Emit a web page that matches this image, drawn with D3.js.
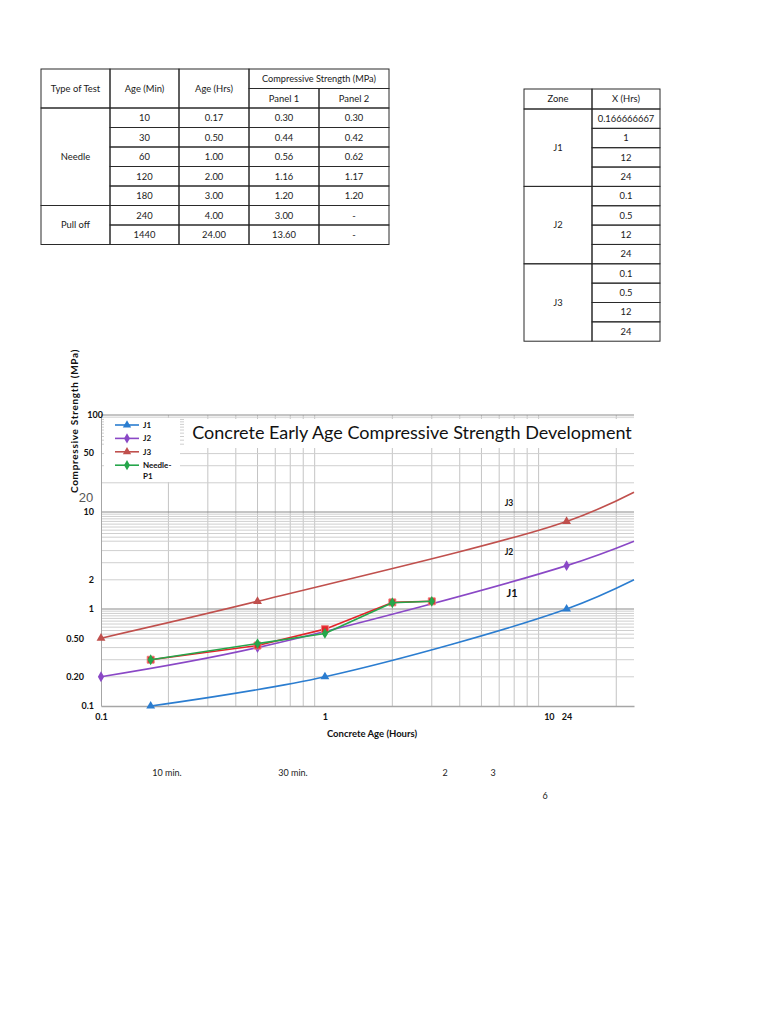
<!DOCTYPE html>
<html>
<head>
<meta charset="utf-8">
<script src="https://cdn.jsdelivr.net/npm/d3@7"></script>
<style>
  body { margin: 0; background: #fff; }
  svg { display: block; font-family: Lato, "Open Sans", sans-serif; }
</style>
</head>
<body>
<svg id="page" width="768" height="1024"></svg>
<script>
// test results table
var testTypes = ["Needle", "Pull off"];
var testCounts = [5, 2];
var ageMin = [10, 30, 60, 120, 180, 240, 1440];
var panel1 = [0.30, 0.44, 0.56, 1.16, 1.20, 3.00, 13.60];
var panel2 = [0.30, 0.42, 0.62, 1.17, 1.20, null, null];

// zone table + strengths
var zones = ["J1", "J2", "J3"];
var zoneHrs = [[0.166666667, 1, 12, 24], [0.1, 0.5, 12, 24], [0.1, 0.5, 12, 24]];
var j1Mpa = [0.1, 0.2, 1, 2];
var j2Mpa = [0.2, 0.4, 2.8, 5];
var j3Mpa = [0.5, 1.2, 8, 16];

// axes
var xTickVals = [0.1, 1, 10, 12];
var xTickLabels = ["0.1", "1", "10", "24"];
var yTickVals = [100, 50, 10, 2, 1, 0.5, 0.2, 0.1];
var yTickLabels = ["100", "50", "10", "2", "1", "0.50", "0.20", "0.1"];
var decades = [0.1, 1, 10];
var gridMultX = [2, 3, 4, 5, 6, 7, 8, 9];
var gridMultY = [2, 3, 4, 5, 5.5, 6, 6.5, 7, 7.5, 8, 8.5, 9, 9.5];
var majorY = [1, 10, 100];

var svg = d3.select("#page");
svg.append("rect").attr("width", 768).attr("height", 1024).attr("fill", "#fff");

var f2 = d3.format(".2f");

// ---------- tables ----------
function drawTable(g, colX, rowY, cells) {
  var cell = g.selectAll("g.cell")
              .data(cells)
              .enter()
              .append("g")
              .attr("class", "cell");

  cell.append("rect")
      .attr("x", function(d) { return colX[d.c0]; })
      .attr("y", function(d) { return rowY[d.r0]; })
      .attr("width", function(d) { return colX[d.c1] - colX[d.c0]; })
      .attr("height", function(d) { return rowY[d.r1] - rowY[d.r0]; })
      .attr("fill", "none")
      .attr("stroke", "#2a2a2a")
      .attr("stroke-width", 1);

  cell.append("text")
      .attr("x", function(d) { return (colX[d.c0] + colX[d.c1]) / 2; })
      .attr("y", function(d) { return (rowY[d.r0] + rowY[d.r1]) / 2; })
      .attr("dy", "0.35em")
      .attr("text-anchor", "middle")
      .attr("font-size", function(d) { return d.fs || 9.4; })
      .attr("fill", "#1a1a1a")
      .text(function(d) { return d.text; });
}

var t1Cols = [41, 110, 179, 249, 319, 389];
var t1Rows = d3.range(10).map(function(i) { return 69 + i * 19.5; });
var t1Cells = [
  {text: "Type of Test", c0: 0, c1: 1, r0: 0, r1: 2},
  {text: "Age (Min)", c0: 1, c1: 2, r0: 0, r1: 2},
  {text: "Age (Hrs)", c0: 2, c1: 3, r0: 0, r1: 2},
  {text: "Compressive Strength (MPa)", c0: 3, c1: 5, r0: 0, r1: 1, fs: 9.2},
  {text: "Panel 1", c0: 3, c1: 4, r0: 1, r1: 2},
  {text: "Panel 2", c0: 4, c1: 5, r0: 1, r1: 2}
];
var start = 2;
testTypes.forEach(function(t, i) {
  t1Cells.push({text: t, c0: 0, c1: 1, r0: start, r1: start + testCounts[i]});
  start += testCounts[i];
});
ageMin.forEach(function(m, i) {
  var r = 2 + i;
  t1Cells.push({text: m, c0: 1, c1: 2, r0: r, r1: r + 1});
  t1Cells.push({text: f2(m / 60), c0: 2, c1: 3, r0: r, r1: r + 1});
  t1Cells.push({text: f2(panel1[i]), c0: 3, c1: 4, r0: r, r1: r + 1});
  t1Cells.push({text: panel2[i] == null ? "-" : f2(panel2[i]), c0: 4, c1: 5, r0: r, r1: r + 1});
});
drawTable(svg.append("g"), t1Cols, t1Rows, t1Cells);

var t2Cols = [524, 592, 660];
var t2Rows = d3.range(14).map(function(i) { return i == 0 ? 89 : 109 + (i - 1) * 19.35; });
var t2Cells = [
  {text: "Zone", c0: 0, c1: 1, r0: 0, r1: 1},
  {text: "X (Hrs)", c0: 1, c1: 2, r0: 0, r1: 1}
];
zones.forEach(function(z, i) {
  t2Cells.push({text: z, c0: 0, c1: 1, r0: 1 + i * 4, r1: 5 + i * 4});
  zoneHrs[i].forEach(function(h, j) {
    t2Cells.push({text: String(h), c0: 1, c1: 2, r0: 1 + i * 4 + j, r1: 2 + i * 4 + j});
  });
});
drawTable(svg.append("g"), t2Cols, t2Rows, t2Cells);

// ---------- chart ----------
var x = d3.scaleLog().domain([0.1, 24]).range([101, 634]);
var y = d3.scaleLog().domain([0.1, 100]).range([706, 415]);

var grid = svg.append("g");
var vGrid = [];
decades.forEach(function(d) { gridMultX.forEach(function(m) { vGrid.push(d * m); }); });
vGrid = vGrid.filter(function(v) { return v < x.domain()[1]; });
var hGrid = [];
decades.forEach(function(d) { gridMultY.forEach(function(m) { hGrid.push(d * m); }); });

grid.selectAll("line.vg")
    .data(vGrid)
    .enter()
    .append("line")
    .attr("x1", function(d) { return x(d); })
    .attr("x2", function(d) { return x(d); })
    .attr("y1", y(100))
    .attr("y2", y(0.1))
    .attr("stroke", "#c4c4c4")
    .attr("stroke-width", 1);

grid.selectAll("line.hg")
    .data(hGrid)
    .enter()
    .append("line")
    .attr("x1", x(0.1))
    .attr("x2", x(24))
    .attr("y1", function(d) { return y(d); })
    .attr("y2", function(d) { return y(d); })
    .attr("stroke", "#cfcfcf")
    .attr("stroke-width", 1);

grid.selectAll("line.mg")
    .data(majorY)
    .enter()
    .append("line")
    .attr("x1", x(0.1))
    .attr("x2", x(24))
    .attr("y1", function(d) { return y(d); })
    .attr("y2", function(d) { return y(d); })
    .attr("stroke", "#8a8a8a")
    .attr("stroke-width", 1);

// axes
var xAxis = svg.append("g")
               .attr("transform", "translate(0," + y(0.1) + ")")
               .call(d3.axisBottom(x)
                       .tickValues(xTickVals)
                       .tickFormat(function(d, i) { return xTickLabels[i]; })
                       .tickSize(0)
                       .tickPadding(8));
xAxis.select(".domain").attr("stroke", "#a6a6a6").attr("stroke-width", 1.5);
xAxis.selectAll("text").attr("font-size", 9).attr("font-weight", "bold").attr("fill", "#111")
     .attr("font-family", "Lato, sans-serif");

var yAxis = svg.append("g")
               .attr("transform", "translate(" + x(0.1) + ",0)")
               .call(d3.axisLeft(y)
                       .tickValues(yTickVals)
                       .tickFormat(function(d, i) { return yTickLabels[i]; })
                       .tickSize(0)
                       .tickPadding(7));
yAxis.select(".domain").attr("stroke", "#a6a6a6").attr("stroke-width", 1);
yAxis.selectAll("text").attr("font-size", 9).attr("font-weight", "bold").attr("fill", "#111")
     .attr("font-family", "Lato, sans-serif")
     .attr("dx", function(d) { return d == 100 ? 9 : (d == 0.5 || d == 0.2) ? -10 : 0; })
     .attr("transform", function(d) { return d == 50 ? "translate(0,8)" : null; });

// stray label from the original sheet
svg.append("text").attr("x", 86).attr("y", 497).attr("dy", "0.35em")
   .attr("text-anchor", "middle").attr("font-size", 13).attr("fill", "#555")
   .attr("font-family", "Liberation Sans, sans-serif").text("20");

// series
var series = [
  {name: "J1", xs: zoneHrs[0], ys: j1Mpa, color: "#2b7dd0", sym: d3.symbolTriangle, smooth: true},
  {name: "J2", xs: zoneHrs[1], ys: j2Mpa, color: "#8a48c6", sym: d3.symbolDiamond, smooth: true},
  {name: "J3", xs: zoneHrs[2], ys: j3Mpa, color: "#c0504d", sym: d3.symbolTriangle, smooth: true},
  {name: "Needle-P2", xs: ageMin.slice(0, 5).map(function(m) { return m / 60; }), ys: panel2.slice(0, 5), color: "#e3242b", sym: d3.symbolSquare, smooth: false},
  {name: "Needle-P1", xs: ageMin.slice(0, 5).map(function(m) { return m / 60; }), ys: panel1.slice(0, 5), color: "#25a64b", sym: d3.symbolDiamond, smooth: false}
];

var smoothLine = d3.line()
                   .curve(d3.curveCatmullRom.alpha(0.5))
                   .x(function(d) { return x(d.x); })
                   .y(function(d) { return y(d.y); });
var straightLine = d3.line()
                     .x(function(d) { return x(d.x); })
                     .y(function(d) { return y(d.y); });

series.forEach(function(s) {
  var pts = s.xs.map(function(v, i) { return {x: v, y: s.ys[i]}; });
  var g = svg.append("g");
  g.append("path")
   .datum(pts)
   .attr("fill", "none")
   .attr("stroke", s.color)
   .attr("stroke-width", 1.6)
   .attr("stroke-linejoin", "round")
   .attr("d", s.smooth ? smoothLine : straightLine);

  g.selectAll("path.mk")
   .data(pts.filter(function(d) { return d.x < x.domain()[1]; }))
   .enter()
   .append("path")
   .attr("transform", function(d) { return "translate(" + x(d.x) + "," + y(d.y) + ")"; })
   .attr("d", d3.symbol().type(s.sym).size(s.sym == d3.symbolSquare ? 48 : 34))
   .attr("fill", s.color)
   .attr("stroke", s.sym == d3.symbolSquare ? "#f07a7a" : "none")
   .attr("stroke-width", 1);
});

// legend box
var legend = svg.append("g");
legend.append("rect").attr("x", 104).attr("y", 418).attr("width", 76).attr("height", 64).attr("fill", "#fff");
var legItems = series.filter(function(s) { return s.name != "Needle-P2"; });
var leg = legend.selectAll("g.li")
                .data(legItems)
                .enter()
                .append("g")
                .attr("transform", function(d, i) { return "translate(0," + (425 + i * 13.4) + ")"; });
leg.append("line").attr("x1", 115).attr("x2", 139)
   .attr("stroke", function(d) { return d.color; }).attr("stroke-width", 1.6);
leg.append("path").attr("transform", "translate(127,0)")
   .attr("d", function(d) { return d3.symbol().type(d.sym).size(30)(); })
   .attr("fill", function(d) { return d.color; });
leg.append("text").attr("x", 143).attr("dy", "0.35em")
   .attr("font-size", 8).attr("font-weight", "bold").attr("fill", "#111")
   .text(function(d) { return d.name == "Needle-P1" ? "Needle-" : d.name; });
legend.append("text").attr("x", 143).attr("y", 476).attr("dy", "0.35em")
      .attr("font-size", 8).attr("font-weight", "bold").attr("fill", "#111").text("P1");

// title box
svg.append("rect").attr("x", 184).attr("y", 419).attr("width", 452).attr("height", 29).attr("fill", "#fff");
svg.append("text").attr("x", 412).attr("y", 433).attr("dy", "0.35em")
   .attr("text-anchor", "middle").attr("font-size", 18).attr("fill", "#111")
   .text("Concrete Early Age Compressive Strength Development");

// axis titles
svg.append("text").attr("x", 372).attr("y", 734).attr("dy", "0.35em")
   .attr("text-anchor", "middle").attr("font-size", 9.5).attr("font-weight", "bold").attr("fill", "#111")
   .text("Concrete Age (Hours)");
svg.append("text").attr("transform", "translate(74,421) rotate(-90)").attr("dy", "0.35em")
   .attr("text-anchor", "middle").attr("font-size", 10).attr("font-weight", "bold")
   .attr("letter-spacing", 0.7).attr("fill", "#111")
   .text("Compressive Strength (MPa)");

// zone labels on the plot
var zoneLabels = [{t: "J3", x: 509, y: 503, fs: 8.5}, {t: "J2", x: 509, y: 552, fs: 8.5}, {t: "J1", x: 512, y: 593, fs: 11}];
svg.selectAll("text.zl")
   .data(zoneLabels)
   .enter()
   .append("text")
   .attr("x", function(d) { return d.x; })
   .attr("y", function(d) { return d.y; })
   .attr("dy", "0.35em")
   .attr("text-anchor", "middle")
   .attr("font-size", function(d) { return d.fs; })
   .attr("font-weight", "bold")
   .attr("fill", "#111")
   .text(function(d) { return d.t; });

// notes under the chart
var notes = [{t: "10 min.", x: 167, y: 773}, {t: "30 min.", x: 293, y: 773}, {t: "2", x: 445, y: 773},
             {t: "3", x: 493, y: 773}, {t: "6", x: 545, y: 796}];
svg.selectAll("text.nt")
   .data(notes)
   .enter()
   .append("text")
   .attr("x", function(d) { return d.x; })
   .attr("y", function(d) { return d.y; })
   .attr("dy", "0.35em")
   .attr("text-anchor", "middle")
   .attr("font-size", 9)
   .attr("fill", "#222")
   .text(function(d) { return d.t; });
</script>
</body>
</html>
